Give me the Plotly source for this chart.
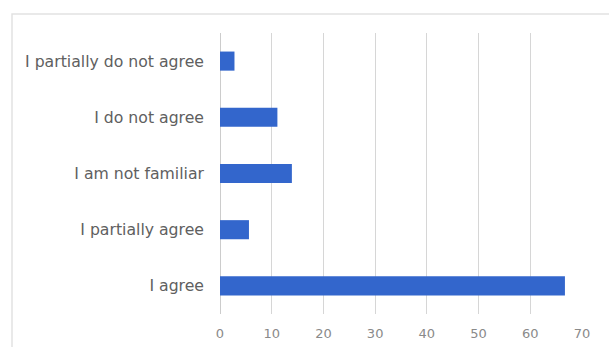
import plotly.graph_objects as go

categories = ["I partially do not agree", "I do not agree", "I am not familiar",
              "I partially agree", "I agree"]
values = [2.8, 11.1, 13.9, 5.6, 66.7]
x_ticks = [0, 10, 20, 30, 40, 50, 60, 70]

W, H = 609, 347
L, R, T, B = 220, 27, 33, 33
pw, ph = W - L - R, H - T - B

fig = go.Figure(go.Bar(
    x=values, y=categories, orientation="h",
    marker=dict(color="#3366cc", line=dict(width=0)),
    width=0.34,
))

fig.update_layout(
    width=W, height=H,
    margin=dict(l=L, r=R, t=T, b=B),
    paper_bgcolor="white", plot_bgcolor="white",
    showlegend=False,
    font=dict(family="DejaVu Sans, sans-serif", size=15.7, color="#606060"),
    xaxis=dict(range=[0, 70], tickvals=x_ticks, showgrid=True, gridcolor="#d6d6d6",
               gridwidth=1, zeroline=True, zerolinecolor="#cccccc", zerolinewidth=1,
               tickfont=dict(size=13, color="#8a8a8a"), ticks="", showline=False,
               ticklabelstandoff=10, automargin=False),
    yaxis=dict(categoryorder="array", categoryarray=categories[::-1],
               autorange=True, showgrid=False,
               ticks="", ticklen=0, tickfont=dict(size=15.7, color="#606060"),
               showline=False, zeroline=False, ticklabelstandoff=15, automargin=False),
)

# chart container border (top and left edges visible)
fig.add_shape(type="rect", xref="paper", yref="paper",
              x0=(12 - L) / pw, x1=(W + 20 - L) / pw,
              y0=(T + ph - (H + 20)) / ph, y1=(T + ph - 14) / ph,
              line=dict(color="#e2e2e2", width=1.5), fillcolor="rgba(0,0,0,0)", layer="below")

fig.write_html("out.html")
